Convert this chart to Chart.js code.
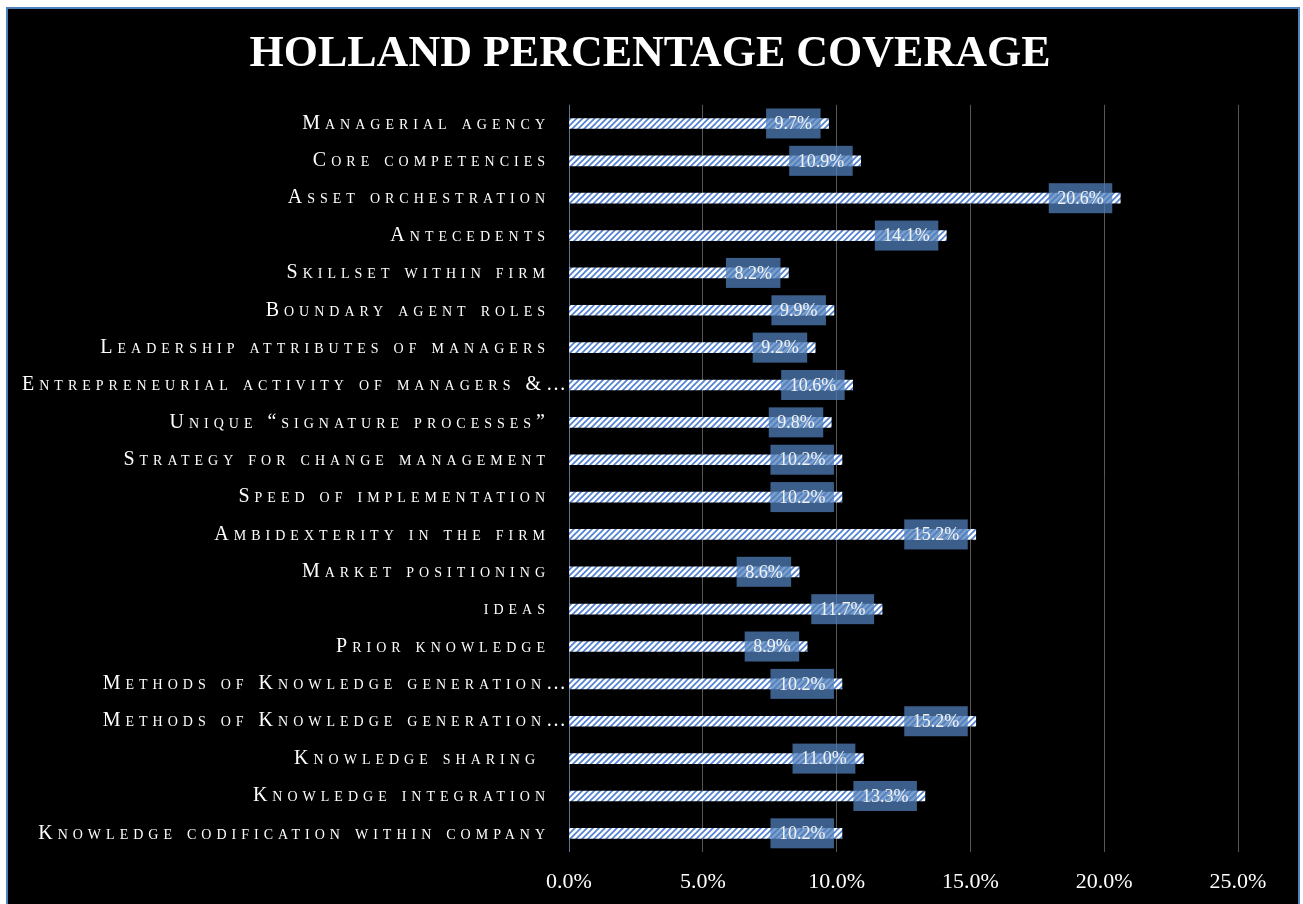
<!DOCTYPE html>
<html>
<head>
<meta charset="utf-8">
<script src="https://cdn.jsdelivr.net/npm/chart.js@4"></script>
<style>
    body { margin: 0; background: #fff; }
    #box { position: absolute; left: 6px; top: 7px; width: 1290px; height: 900px; background: #000; border: 2px solid #4f81bd; }
</style>
</head>
<body>
<div id="box"><canvas id="coverage" width="1290" height="900"></canvas></div>
<script>
let categories = [
    'Managerial agency',
    'Core competencies',
    'Asset orchestration',
    'Antecedents',
    'Skillset within firm',
    'Boundary agent roles',
    'Leadership attributes of managers',
    'Entrepreneurial activity of managers &…',
    'Unique “signature processes”',
    'Strategy for change management',
    'Speed of implementation',
    'Ambidexterity in the firm',
    'Market positioning',
    'ideas',
    'Prior knowledge',
    'Methods of Knowledge generation…',
    'Methods of Knowledge generation…',
    'Knowledge sharing ',
    'Knowledge integration',
    'Knowledge codification within company'
]
let coverage = [9.7, 10.9, 20.6, 14.1, 8.2, 9.9, 9.2, 10.6, 9.8, 10.2, 10.2, 15.2, 8.6, 11.7, 8.9, 10.2, 15.2, 11.0, 13.3, 10.2]
let x_ticks = [0, 5, 10, 15, 20, 25]

let serif = "'Liberation Serif', 'Times New Roman', serif"
let canvas_tag = document.getElementById('coverage')

function hatch() {
    let c = document.createElement('canvas')
    c.width = 6
    c.height = 6
    let g = c.getContext('2d')
    g.fillStyle = '#fff'
    g.fillRect(0, 0, 6, 6)
    g.strokeStyle = '#4f7fd0'
    g.lineWidth = 1.6
    g.beginPath()
    g.moveTo(0, 6); g.lineTo(6, 0)
    g.moveTo(-3, 3); g.lineTo(3, -3)
    g.moveTo(3, 9); g.lineTo(9, 3)
    g.stroke()
    return canvas_tag.getContext('2d').createPattern(c, 'repeat')
}

// spaced-out small caps on the category labels, truncated ones run up to the axis
let spacedLabels = {
    id: 'spacedLabels',
    beforeDraw(chart) {
        let y = chart.scales.y
        if (y._spaced) return
        let orig = y.drawLabels
        let origItems = y.getLabelItems
        y.getLabelItems = function (area) {
            let items = origItems.call(this, area)
            if (!this._shifted) {
                items.forEach(item => {
                    if (String(item.label).endsWith('…')) item.options.translation[0] += 21
                })
                this._shifted = true
            }
            return items
        }
        y.drawLabels = function (area) {
            let ctx = this.ctx
            ctx.save()
            ctx.letterSpacing = '5px'
            orig.call(this, area)
            ctx.restore()
        }
        y._spaced = true
    }
}

let valueBoxes = {
    id: 'valueBoxes',
    afterDatasetsDraw(chart) {
        let ctx = chart.ctx
        let meta = chart.getDatasetMeta(0)
        ctx.save()
        ctx.font = '18px ' + serif
        ctx.textAlign = 'center'
        ctx.textBaseline = 'middle'
        meta.data.forEach((bar, i) => {
            let txt = coverage[i].toFixed(1) + '%'
            let w = ctx.measureText(txt).width + 17
            let right = bar.x - 8
            ctx.fillStyle = 'rgba(79,125,184,0.75)'
            ctx.fillRect(right - w, bar.y - 15, w, 30)
            ctx.fillStyle = '#f2f2f2'
            ctx.fillText(txt, right - w / 2, bar.y + 1)
        })
        ctx.restore()
    }
}

new Chart(canvas_tag, {
    type: 'bar',
    data: {
        labels: categories,
        datasets: [{
            data: coverage,
            backgroundColor: hatch(),
            borderWidth: 0,
            barThickness: 10
        }]
    },
    options: {
        indexAxis: 'y',
        responsive: false,
        animation: false,
        devicePixelRatio: 1,
        layout: { padding: { top: 0, right: 6, bottom: 0, left: 0 } },
        plugins: {
            legend: { display: false },
            tooltip: { enabled: false },
            title: {
                display: true,
                text: 'HOLLAND PERCENTAGE COVERAGE',
                color: '#fff',
                font: { family: serif, size: 44, weight: 'bold' },
                padding: { top: 19, bottom: 24 }
            }
        },
        scales: {
            x: {
                min: 0,
                max: 25,
                afterBuildTicks: scale => { scale.ticks = x_ticks.map(v => ({ value: v })) },
                afterFit: scale => {
                    scale.height = 57
                    scale.paddingRight = 60
                },
                grid: {
                    drawTicks: false,
                    color: ctx => ctx.index === 0 ? '#5f7391' : '#575757',
                    lineWidth: 1
                },
                border: { display: false },
                ticks: {
                    color: '#fff',
                    padding: 17,
                    font: { family: serif, size: 22 },
                    callback: v => v.toFixed(1) + '%'
                }
            },
            y: {
                afterFit: scale => { scale.width = 561 },
                grid: { display: false, drawTicks: false },
                border: { display: false },
                ticks: {
                    color: '#fff',
                    padding: 19,
                    autoSkip: false,
                    font: { family: serif, size: 20, weight: 'small-caps' }
                }
            }
        }
    },
    plugins: [spacedLabels, valueBoxes]
})
</script>
</body>
</html>
